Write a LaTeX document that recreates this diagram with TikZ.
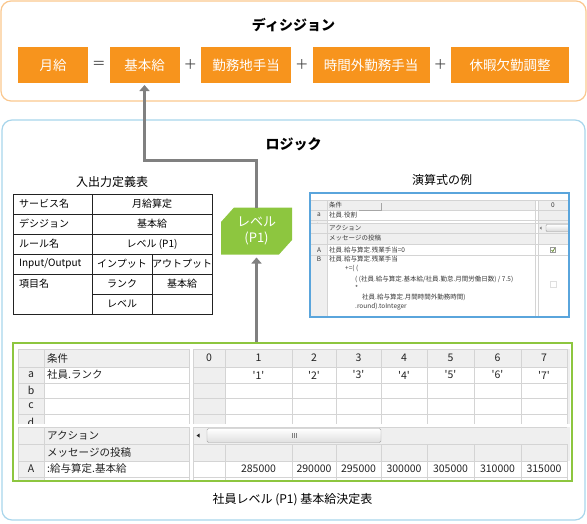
\documentclass[tikz,border=0pt]{standalone}
\usepackage{fontspec}
\setmainfont{Noto Sans CJK JP}
\usepackage{tikz}
\usetikzlibrary{arrows.meta,positioning,backgrounds}
\definecolor{DecisionLine}{HTML}{FAC78E}
\definecolor{DecisionOrange}{HTML}{F7941D}
\definecolor{LogicLine}{HTML}{A8D5EB}
\definecolor{LevelGreen}{HTML}{8DC63F}
\definecolor{ArrowGrey}{HTML}{808080}
\definecolor{OpGrey}{HTML}{404040}
\definecolor{GridLine}{HTML}{D4D4D4}
\definecolor{CellGrey}{HTML}{EFEFEF}
\definecolor{ShotBlue}{HTML}{5AA5DC}
\definecolor{TextDark}{HTML}{222222}
\begin{document}
\begin{tikzpicture}[x=1pt,y=-1pt,
  panel/.style={rounded corners=10pt,line width=1.2pt,inner sep=0pt,outer sep=0pt},
  heading/.style={font=\fontsize{14}{16}\selectfont\bfseries,inner sep=0pt},
  salary/.style={fill=DecisionOrange,text=white,font=\fontsize{13.5}{15}\selectfont,
                 minimum height=36pt,inner sep=0pt,outer sep=0pt},
  op/.style={text=OpGrey,font=\fontsize{13.5}{15}\selectfont,minimum width=21.5pt,inner sep=0pt,outer sep=0pt},
  subhead/.style={font=\fontsize{12}{14}\selectfont,inner sep=0pt},
  tablerule/.style={TextDark,line width=0.9pt},
  tablelabel/.style={anchor=west,font=\fontsize{10}{12}\selectfont,inner sep=0pt},
  tablecell/.style={font=\fontsize{10}{12}\selectfont,inner sep=0pt},
  levelbox/.style={text=white,font=\fontsize{13}{16}\selectfont,align=center,
                   minimum width=71pt,minimum height=47pt,inner sep=0pt,outer sep=0pt},
  flow/.style={ArrowGrey,line width=3pt,-{Triangle[width=10pt,length=6pt]}},
  shottext/.style={anchor=west,font=\fontsize{6.5}{7.5}\selectfont,text=TextDark!90,inner sep=0pt},
  gridline/.style={GridLine,line width=0.8pt},
  gridtext/.style={font=\fontsize{10.5}{12}\selectfont,text=TextDark,inner sep=0pt},
]
\useasboundingbox (0,0) rectangle (587,523);

% decision
\node[panel,draw=DecisionLine,minimum width=585pt,minimum height=100pt] (decision) at (293.5,51) {};
\node[heading] (decisiontitle) at (293.5,25) {ディシジョン};
\node[salary,minimum width=70pt] (gekkyu) at (53,65) {月給};
\node[op,right=0pt of gekkyu] (eq) {＝};
\node[salary,minimum width=70pt,right=0pt of eq] (kihon) {基本給};
\node[op,right=0pt of kihon] (plusa) {＋};
\node[salary,minimum width=90pt,right=0pt of plusa] (kinmuchi) {勤務地手当};
\node[op,right=0pt of kinmuchi] (plusb) {＋};
\node[salary,minimum width=117pt,right=0pt of plusb] (jikangai) {時間外勤務手当};
\node[op,right=0pt of jikangai] (plusc) {＋};
\node[salary,minimum width=118pt,right=0pt of plusc] (kyuka) {休暇欠勤調整};

% logic
\node[panel,draw=LogicLine,minimum width=583pt,minimum height=400pt] (logic) at (293.5,320) {};
\node[heading] (logictitle) at (293.5,144) {ロジック};

% input/output definition table
\node[subhead] (iotitle) at (112,182) {入出力定義表};
\draw[tablerule] (13,194) rectangle (212,314);
\foreach \y in {214,234,254,274}
  \draw[tablerule] (13,\y) -- (212,\y);
\draw[tablerule] (92,294) -- (212,294);
\draw[tablerule] (92,194) -- (92,314);
\draw[tablerule] (152,254) -- (152,314);
\node[tablelabel] (svc) at (19,204) {サービス名};
\node[tablecell] (svcname) at (152,204) {月給算定};
\node[tablelabel] (dec) at (19,224) {デシジョン};
\node[tablecell] (decname) at (152,224) {基本給};
\node[tablelabel] (rule) at (19,244) {ルール名};
\node[tablecell] (rulename) at (152,244) {レベル (P1)};
\node[tablelabel] (io) at (19,264) {Input/Output};
\node[tablecell] (inp) at (122,264) {インプット};
\node[tablecell] (outp) at (182,264) {アウトプット};
\node[tablelabel] (item) at (19,284) {項目名};
\node[tablecell] (rank) at (122,284) {ランク};
\node[tablecell] (base) at (182,284) {基本給};
\node[tablecell] (lvl) at (122,304) {レベル};

% level rule
\node[levelbox] (level) at (256.5,231) {レベル\\(P1)};
\begin{scope}[on background layer]
  \fill[LevelGreen] ([yshift=-14.5pt]level.north west) -- ([xshift=13pt]level.north west)
    -- (level.north east) -- ([yshift=14.5pt]level.south east)
    -- ([xshift=-13pt]level.south east) -- (level.south west) -- cycle;
\end{scope}

% expression example
\node[subhead] (exprtitle) at (442,180) {演算式の例};
\begin{scope}
  \clip (311,194) rectangle (568,223);
  \fill[CellGrey] (311,200) rectangle (535,210);
  \fill[CellGrey] (311,210) rectangle (327,230);
  \fill[CellGrey] (538,200) rectangle (568,230);
  \foreach \y in {200,210,220}
    \draw[gridline,line width=0.5pt] (311,\y) -- (568,\y);
  \foreach \x in {327,535,538}
    \draw[gridline,line width=0.5pt] (\x,200) -- (\x,230);
  \draw[gray!70,line width=0.6pt] (359,210.5) -- (381.5,210.5) -- (381.5,202.5);
  \node[shottext] (shotcond) at (329,205) {条件};
  \node[shottext,anchor=center] (shotzero) at (553,205) {0};
  \node[shottext,anchor=center] (shota) at (319,215) {a};
  \node[shottext] (shotrole) at (329,215) {社員.役割};
  \node[shottext,anchor=center] (shotb) at (319,225.5) {b};
\end{scope}
\begin{scope}
  \clip (311,223) rectangle (568,316);
  \fill[CellGrey] (311,223) rectangle (327,316);
  \fill[CellGrey] (327,223) rectangle (535,244);
  \fill[CellGrey] (538,223) rectangle (568,244);
  \foreach \y in {223,233,244,255}
    \draw[gridline,line width=0.5pt] (311,\y) -- (568,\y);
  \foreach \x in {327,535,538}
    \draw[gridline,line width=0.5pt] (\x,223) -- (\x,316);
  \fill[gray] (539.5,228) -- (541.5,226.5) -- (541.5,229.5) -- cycle;
  \draw[gray!80,top color=white,bottom color=gray!30,rounded corners=1pt] (546,224.5) rectangle (575,231.5);
  \node[shottext] (shotaction) at (329,228) {アクション};
  \node[shottext] (shotmsg) at (329,238.5) {メッセージの投稿};
  \node[shottext,anchor=center] (shotA) at (319,250) {A};
  \node[shottext] (shotzeroset) at (329,250) {社員.給与算定.残業手当=0};
  \node[shottext,anchor=center] (shotB) at (319,259) {B};
  \node[shottext] (shotline) at (329,259) {社員.給与算定.残業手当};
  \node[shottext] (shotadd) at (345,268) {+=( (};
  \node[shottext] (shotdiv) at (355,279) {( (社員.給与算定.基本給/社員.勤怠.月間労働日数) / 7.5)};
  \node[shottext] (shotmul) at (355,288) {*};
  \node[shottext] (shothours) at (362,297) {社員.給与算定.月間時間外勤務時間)};
  \node[shottext] (shotround) at (355,307) {.round).toInteger};
  \draw[gray!80,fill=white,line width=0.5pt] (550.5,247.5) rectangle (555.5,252.5);
  \draw[LevelGreen!70!black,line width=0.7pt] (551.5,250) -- (552.8,251.5) -- (554.7,248.3);
  \draw[gray!25,fill=white,line width=0.5pt] (550.5,281.5) rectangle (556.5,287.5);
\end{scope}
\node[draw=ShotBlue,line width=1.5pt,minimum width=259pt,minimum height=124pt,inner sep=0pt] (shot) at (439.5,255) {};

% rate table
\begin{scope}
  \clip (18,349) rectangle (570,423);
  \fill[CellGrey] (18,349) rectangle (189,367);
  \fill[CellGrey] (18,367) rectangle (44,430);
  \fill[CellGrey] (193,349) rectangle (570,367);
  \fill[CellGrey] (193,367) rectangle (225,430);
  \fill[CellGrey] (567,367) rectangle (570,430);
  \foreach \y in {349,367,383,398,414} {
    \draw[gridline] (18,\y) -- (189,\y);
    \draw[gridline] (193,\y) -- (567,\y);
  }
  \foreach \x in {18,44,189,193,225,292,336,381,427,474,521,567}
    \draw[gridline] (\x,349) -- (\x,430);
  \node[gridtext,anchor=west] (condhead) at (47,358) {条件};
  \node[gridtext] (colzero) at (209,358) {0};
  \foreach \n/\x in {1/258.5,2/314,3/358.5,4/404,5/450.5,6/497.5,7/544} {
    \node[gridtext] (col\n) at (\x,358) {\n};
    \node[gridtext] (rank\n) at (\x,375) {\textquotesingle\n\textquotesingle};
  }
  \node[gridtext] (rowa) at (31,375) {a};
  \node[gridtext,anchor=west] (rankname) at (47,375) {社員.ランク};
  \node[gridtext] (rowb) at (31,390.5) {b};
  \node[gridtext] (rowc) at (31,406) {c};
  \node[gridtext] (rowd) at (31,422) {d};
\end{scope}
\begin{scope}
  \clip (18,427) rectangle (570,480);
  \fill[CellGrey] (18,427) rectangle (44,480);
  \fill[CellGrey] (44,427) rectangle (189,461);
  \fill[CellGrey] (193,427) rectangle (570,461);
  \foreach \y in {427,444,461,477} {
    \draw[gridline] (18,\y) -- (189,\y);
    \draw[gridline] (193,\y) -- (567,\y);
  }
  \foreach \x in {18,44,189,193}
    \draw[gridline] (\x,427) -- (\x,480);
  \foreach \x in {225,292,336,381,427,474,521,567}
    \draw[gridline] (\x,444) -- (\x,480);
  \fill[TextDark] (196.5,435.5) -- (199.5,433.5) -- (199.5,437.5) -- cycle;
  \draw[gray!70,top color=white,bottom color=gray!25,rounded corners=1.5pt] (207,428.5) rectangle (381,442.5);
  \foreach \x in {292,294,296}
    \draw[gray,line width=0.5pt] (\x,433) -- (\x,438);
  \node[gridtext,anchor=west] (actionhead) at (47,435.5) {アクション};
  \node[gridtext,anchor=west] (msghead) at (47,452.5) {メッセージの投稿};
  \node[gridtext] (rowA) at (31,469) {A};
  \node[gridtext,anchor=west] (basename) at (47,469) {:給与算定.基本給};
  \foreach \n/\x/\v in {1/258.5/285000,2/314/290000,3/358.5/295000,4/404/300000,
                        5/450.5/305000,6/497.5/310000,7/544/315000}
    \node[gridtext] (pay\n) at (\x,469) {\v};
\end{scope}
\node[draw=LevelGreen,line width=2.5pt,minimum width=559pt,minimum height=138pt,inner sep=0pt] (ratetable) at (292.5,412) {};
\node[subhead,below=11pt of ratetable] (ratecaption) {社員レベル (P1) 基本給決定表};

% connectors
\draw[flow] (level.north) -- ++(0,-47) -| ([yshift=-2pt]kihon.south);
\draw[flow] (ratetable.north -| level.south) -- ([yshift=-3pt]level.south);
\end{tikzpicture}
\end{document}
